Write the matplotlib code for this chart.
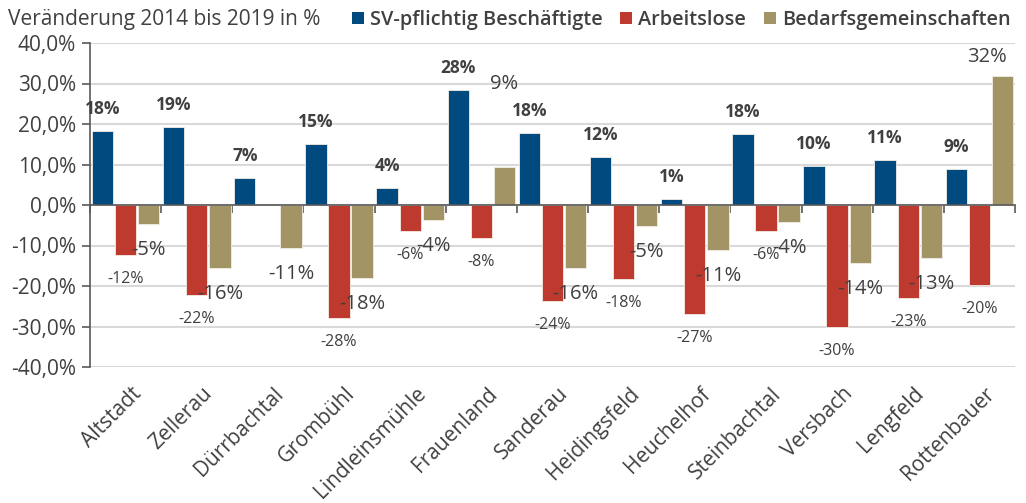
import numpy as np
import matplotlib
matplotlib.use("Agg")
import matplotlib.pyplot as plt
from matplotlib.patches import Patch
import matplotlib.transforms as mtransforms

plt.rcParams['font.family'] = ['Open Sans', 'DejaVu Sans']

districts = ["Altstadt", "Zellerau", "Dürrbachtal", "Grombühl", "Lindleinsmühle",
             "Frauenland", "Sanderau", "Heidingsfeld", "Heuchelhof", "Steinbachtal",
             "Versbach", "Lengfeld", "Rottenbauer"]
sv_beschaeftigte = [18.2, 19.3, 6.6, 15.0, 4.2, 28.4, 17.8, 11.8, 1.4, 17.6, 9.6, 11.1, 9.0]
arbeitslose = [-12.3, -22.2, np.nan, -27.8, -6.4, -8.2, -23.7, -18.3, -26.8, -6.4, -30.2, -22.9, -19.7]
bedarfsgemeinschaften = [-4.8, -15.6, -10.7, -18.0, -3.6, 9.4, -15.6, -5.3, -11.2, -4.3, -14.4, -13.2, 31.8]

series_names = ["SV-pflichtig Beschäftigte", "Arbeitslose", "Bedarfsgemeinschaften"]
colors = ["#004A80", "#BE3A2E", "#A39465"]
text_col = "#404040"

fig = plt.figure(figsize=(10.26, 5.03), dpi=100)
ax = fig.add_axes([90/1026, 1-367/503, 925/1026, (367-43)/503])

x = np.arange(len(districts))
w = 0.30
offsets = [-0.325, 0.0, 0.325]
data = [sv_beschaeftigte, arbeitslose, bedarfsgemeinschaften]

for k, (vals, col) in enumerate(zip(data, colors)):
    vals = np.array(vals, dtype=float)
    ax.bar(x + offsets[k], vals, width=w, color=col, edgecolor="#F2EEE6",
           linewidth=0.6, zorder=3)
    for i, v in enumerate(vals):
        if np.isnan(v):
            continue
        lab = f"{v:.0f}%"
        dx = 0
        if k == 0:
            dy, fs, fw = 22, 12.5, 'bold'
        elif k == 1:
            dy, fs, fw = -24, 11.5, 'normal'
        else:
            dy, fs, fw = (19 if v > 0 else -26), 14.5, 'normal'
            if i == 5:
                dy = 83
            if i == len(vals) - 1:
                dx = -16
        ax.annotate(lab, (x[i] + offsets[k], v), xytext=(dx, dy),
                    textcoords="offset pixels",
                    ha='center', va='center', fontsize=fs, fontweight=fw,
                    color=text_col, zorder=5)

ax.set_xlim(-0.5, len(districts) - 0.5)
ax.set_ylim(-40, 40)
ax.set_yticks(np.arange(-40, 41, 10))
ax.set_yticklabels([f"{t:.1f}%".replace(".", ",") for t in np.arange(-40, 41, 10)],
                   fontsize=15, color=text_col)
ax.yaxis.grid(True, color="#D9D9D9", linewidth=1.5, zorder=0)
ax.set_axisbelow(True)

for s in ['top', 'right']:
    ax.spines[s].set_visible(False)
ax.spines['left'].set_color("#595959")
ax.spines['left'].set_linewidth(1.2)
ax.spines['bottom'].set_position(('data', 0))
ax.spines['bottom'].set_color("#595959")
ax.spines['bottom'].set_linewidth(1.2)
ax.spines['bottom'].set_zorder(4)
ax.tick_params(axis='y', length=6, width=1.2, color="#595959", pad=4)
ax.set_xticks(np.arange(-0.5, len(districts), 1.0))
ax.tick_params(axis='x', length=6, width=1.2, color="#595959", labelbottom=False)

trans = mtransforms.blended_transform_factory(ax.transData, ax.transAxes)
for i, name in enumerate(districts):
    ax.text(x[i] + 0.07, -0.05, name, transform=trans, rotation=45,
            ha='right', va='top', rotation_mode='anchor',
            fontsize=15, color=text_col)

fig.text(8/1026, 1-20/503, "Veränderung 2014 bis 2019 in %", fontsize=15,
         color=text_col, va='center', ha='left')
handles = [Patch(facecolor=c, edgecolor='none') for c in colors]
leg = fig.legend(handles, series_names, loc='center left',
                 bbox_to_anchor=(334/1026, 1-20/503), ncol=3, frameon=False,
                 handlelength=0.6, handleheight=0.6, handletextpad=0.3,
                 columnspacing=0.9, prop={'size': 14.3, 'weight': 'semibold'})
for t in leg.get_texts():
    t.set_color(text_col)

fig.savefig("out.png", dpi=100)
